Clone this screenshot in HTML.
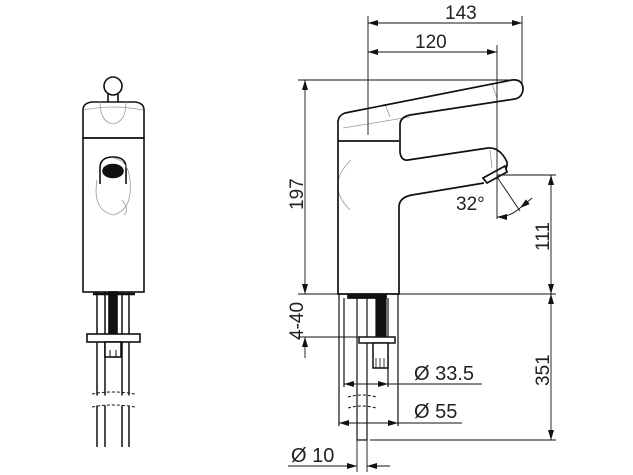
<!DOCTYPE html>
<html><head><style>
html,body{margin:0;padding:0;background:#fff;}
svg{display:block;}
text{font-family:"Liberation Sans",sans-serif;font-size:19px;fill:#222;}
</style></head><body>
<svg width="633" height="475" viewBox="0 0 633 475" xmlns="http://www.w3.org/2000/svg">
<defs>
<marker id="a" viewBox="0 0 10 6" refX="10" refY="3" markerWidth="11" markerHeight="6" orient="auto-start-reverse" markerUnits="userSpaceOnUse"><path d="M0,0L10,3L0,6z" fill="#111"/></marker>
</defs>
<g fill="none" stroke="#111" stroke-width="1.6">
<!-- LEFT VIEW -->
<circle cx="113" cy="86" r="9" fill="#fff"/>
<path d="M108,94 L108,103 M118,94 L118,103"/>
<path d="M83,138 L83,110 Q83,103 92,102 L135,102 Q144,103 144,110 L144,138 Z" fill="#fff"/>
<rect x="83" y="138" width="61" height="154"/>
<path d="M100,184 L100,168 Q100,157 113,157 Q126,157 126,168 L126,184"/>
<ellipse cx="113" cy="171" rx="10" ry="6.5" fill="#111"/>
<path d="M97,292 L97,447 M105,292 L105,447 M122,292 L122,447 M129,292 L129,447" stroke-width="1.5"/>
<rect x="109" y="292" width="8" height="42" fill="#111"/>
<rect x="87" y="334" width="53" height="8" fill="#fff"/>
<rect x="105" y="342" width="16" height="15" fill="#fff"/>
<path d="M110,350 V357 M116,350 V357" stroke-width="1"/>
<path d="M93,294 H135" stroke-width="2.5"/>
</g>
<g fill="none" stroke="#999" stroke-width="0.8">
<path d="M100,102 Q100,122 113,124 Q126,122 126,102"/>
<path d="M84,110 Q113,104 143,110"/>
<path d="M97,180 Q92,210 113,215 Q133,210 130,180 Q128,160 113,158"/>
<path d="M122,200 Q130,210 124,215"/>
<path d="M351,160 Q325,185 350,210"/>
<path d="M343,128 L410,117 M385,104 L390,117 M492,84 L497,98 M490,150 L492,168"/>
</g>
<g fill="#fff" stroke="#fff"><rect x="93" y="396" width="40" height="9"/><rect x="352" y="399" width="22" height="7"/></g>
<g fill="none" stroke="#111" stroke-width="1" stroke-dasharray="3,2">
<path d="M92,394 Q113,390 135,394 M92,407 Q113,403 135,407"/>
<path d="M348,397 Q362,393 376,397 M348,408 Q362,404 376,408"/>
</g>
<!-- RIGHT VIEW -->
<g fill="none" stroke="#111" stroke-width="1.7">
<path d="M399,141 L338,141 L338,121 Q339,115 345,113 L512,80 Q522,79 523,88 Q523,97 515,99 L410,115 Q400,117 400,125 L400,152 Q401,161 408,160 L488,148 Q500,147 507,162 Q508,170 500,173 M484,183 L412,195 Q400,197 399,206 L399,294 L338,294 L338,141"/>
<path d="M483,178 L505,166 L507,172 L487,183 Z" fill="#fff"/>
<path d="M348,294 V298 H386 V294" fill="#111"/>
</g>
<g stroke="#111" stroke-width="1.2" fill="none">
<path d="M357,298 V440 H367 V298"/>
<path d="M339,294 V426 M398,294 V426 M344,298 V387 M388,298 V387"/>
<rect x="376" y="297" width="10" height="40" fill="#111"/>
<rect x="359" y="337" width="36" height="6" fill="#fff" stroke-width="1.5"/>
<rect x="373" y="343" width="15" height="25" fill="#fff" stroke-width="1.5"/>
<path d="M376,358 V368 M380,358 V368 M384,358 V368" stroke-width="0.8"/>
</g>
<g stroke="#111" stroke-width="0.9" fill="none">
<path d="M368,16 V135 M522,16 V86 M497,45 V219 M298,80 H518 M298,294 H556 M298,337 H360 M497,175 H556 M370,440 H556"/>
<path d="M305,80 V294" marker-start="url(#a)" marker-end="url(#a)"/>
<path d="M305,337 V358" marker-start="url(#a)"/>
<path d="M551,175 V294" marker-start="url(#a)" marker-end="url(#a)"/>
<path d="M551,294 V440" marker-start="url(#a)" marker-end="url(#a)"/>
<path d="M368,23 H522" marker-start="url(#a)" marker-end="url(#a)"/>
<path d="M368,52 H497" marker-start="url(#a)" marker-end="url(#a)"/>
<path d="M497,177 L520,211"/>
<path d="M497,217 Q510,217 520,208" marker-start="url(#a)"/>
<path d="M520,208 Q525,204 532,198" marker-start="url(#a)"/>
<path d="M344,384 H388" marker-start="url(#a)" marker-end="url(#a)"/>
<path d="M388,384 H482"/>
<path d="M339,423 H398" marker-start="url(#a)" marker-end="url(#a)"/>
<path d="M398,423 H462"/>
<path d="M288,466 H357" marker-end="url(#a)"/>
<path d="M390,466 H367" marker-end="url(#a)"/>
<path d="M357,440 V472 M367,440 V472"/>
</g>
<text x="445" y="19">143</text>
<text x="415" y="48">120</text>
<text x="456" y="210">32°</text>
<text transform="translate(303,210) rotate(-90)">197</text>
<text transform="translate(303,340) rotate(-90)">4-40</text>
<text transform="translate(549,251) rotate(-90)">111</text>
<text transform="translate(549,386) rotate(-90)">351</text>
<text x="414" y="380" style="font-size:20px">Ø 33.5</text>
<text x="414" y="418" style="font-size:20px">Ø 55</text>
<text x="291" y="462" style="font-size:20px">Ø 10</text>
</svg>
</body></html>
